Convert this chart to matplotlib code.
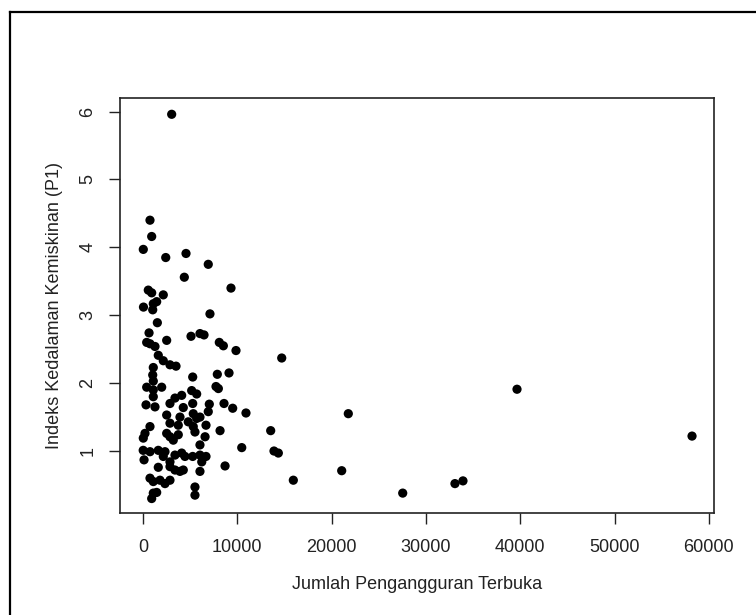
import matplotlib
matplotlib.use("Agg")
import matplotlib.pyplot as plt
from matplotlib.lines import Line2D

# =========================
# DATA
# =========================
pengangguran = [
    3040, 740, 920, 30, 2410, 4560, 6920, 4380, 560, 920,
    2150, 9330, 1450, 1090, 50, 1030, 7100, 1520, 640, 2510,
    5090, 6040, 6470, 390, 740, 1270, 8090, 8520, 9860, 1620,
    2150, 2860, 3500, 1090, 1030, 1090, 5270, 7880, 9120, 390,
    1090, 1980, 1090, 5160, 5690, 7740, 7990, 320, 1270, 2860,
    3390, 4100, 4270, 5270, 7030, 6920, 8590, 9510, 10920, 2510,
    3920, 5330, 5690, 6040, 2860, 3740, 4800, 5330, 6680, 8170,
    740, 210, 30, 2510, 2860, 3210, 3740, 5510, 6580, 6040,
    20, 740, 110, 1620, 2330, 2150, 2860, 3390, 4100, 4450,
    5270, 6040, 6680, 6230, 10470, 1620, 2860, 3390, 3920, 4270,
    6040, 8700, 740, 1090, 1800, 2330, 2860, 5510, 5510, 1090,
    920, 1450,
    14710, 21770, 13540, 13890, 14350, 15940, 21070, 27540, 33080, 33930,
    39660, 58220,
]
indeks_p1 = [
    5.96, 4.40, 4.16, 3.97, 3.85, 3.91, 3.75, 3.56, 3.37, 3.33,
    3.30, 3.40, 3.20, 3.17, 3.12, 3.08, 3.02, 2.89, 2.74, 2.63,
    2.69, 2.73, 2.71, 2.60, 2.58, 2.54, 2.60, 2.55, 2.48, 2.41,
    2.33, 2.27, 2.25, 2.23, 2.12, 2.03, 2.09, 2.13, 2.15, 1.94,
    1.90, 1.94, 1.80, 1.89, 1.84, 1.95, 1.92, 1.68, 1.65, 1.70,
    1.78, 1.82, 1.64, 1.70, 1.69, 1.58, 1.70, 1.63, 1.56, 1.53,
    1.50, 1.55, 1.48, 1.50, 1.41, 1.38, 1.43, 1.36, 1.38, 1.30,
    1.36, 1.26, 1.19, 1.26, 1.21, 1.16, 1.24, 1.28, 1.21, 1.09,
    1.01, 0.99, 0.87, 1.01, 0.99, 0.92, 0.84, 0.94, 0.97, 0.92,
    0.92, 0.94, 0.92, 0.84, 1.05, 0.76, 0.77, 0.72, 0.70, 0.72,
    0.70, 0.78, 0.60, 0.55, 0.57, 0.52, 0.57, 0.47, 0.35, 0.38,
    0.30, 0.39,
    2.37, 1.55, 1.30, 1.00, 0.97, 0.57, 0.71, 0.38, 0.52, 0.56,
    1.91, 1.22,
]

X_TICKS = [0, 10000, 20000, 30000, 40000, 50000, 60000]
Y_TICKS = [1, 2, 3, 4, 5, 6]
XLABEL = "Jumlah Pengangguran Terbuka"
YLABEL = "Indeks Kedalaman Kemiskinan (P1)"

# =========================
# STYLE
# =========================
FONT = "Liberation Sans"
TICK_FS = 13
LABEL_FS = 13
TEXT_COLOR = "#222222"

plt.rcParams["font.family"] = [FONT, "DejaVu Sans"]

fig = plt.figure(figsize=(7.56, 6.15), dpi=100)
ax = fig.add_axes([120 / 756, 1 - 513 / 615, 594 / 756, 415 / 615])

ax.scatter(pengangguran, indeks_p1, s=44, color="black", edgecolors="none", zorder=3)

# R-like limits (4% padding)
ax.set_xlim(-2440, 60550)
ax.set_ylim(0.087, 6.2)

ax.set_xticks(X_TICKS)
ax.set_xticklabels([str(v) for v in X_TICKS], fontsize=TICK_FS, color=TEXT_COLOR)
ax.set_yticks(Y_TICKS)
ax.set_yticklabels([str(v) for v in Y_TICKS], fontsize=TICK_FS, color=TEXT_COLOR,
                   rotation=90, va="center")

ax.tick_params(axis="both", direction="out", length=8, width=1.0, color="#222222")
ax.tick_params(axis="x", pad=11)
ax.tick_params(axis="y", pad=9)

ax.set_xlabel(XLABEL, fontsize=LABEL_FS, color=TEXT_COLOR, labelpad=14)
ax.set_ylabel(YLABEL, fontsize=LABEL_FS, color=TEXT_COLOR, labelpad=12)

for spine in ax.spines.values():
    spine.set_linewidth(1.2)
    spine.set_color("#222222")

# outer frame of the screenshot (left and top only)
fx = 10 / 756
fy = 1 - 12 / 615
fig.add_artist(Line2D([fx, fx], [0, fy], transform=fig.transFigure, color="black", linewidth=1.6))
fig.add_artist(Line2D([fx, 1], [fy, fy], transform=fig.transFigure, color="black", linewidth=1.6))

fig.savefig("out.png", dpi=100)
